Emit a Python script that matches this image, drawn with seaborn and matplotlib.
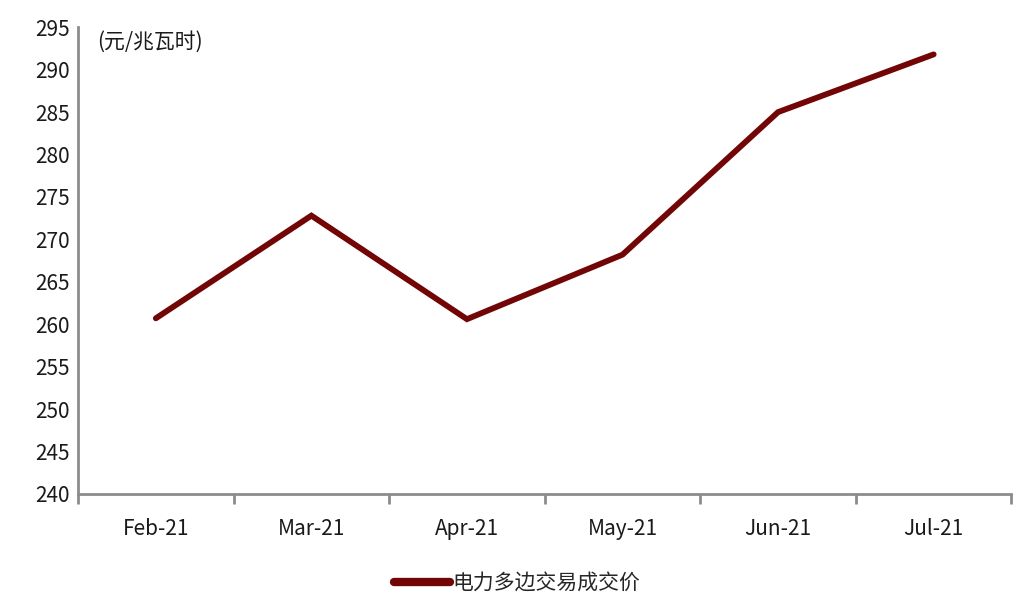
import matplotlib
matplotlib.use("Agg")
import matplotlib.pyplot as plt
import seaborn as sns
import pandas as pd
import numpy as np

months = ["Feb-21", "Mar-21", "Apr-21", "May-21", "Jun-21", "Jul-21"]
price = [260.7, 272.8, 260.6, 268.2, 285.0, 291.8]
series_name = "电力多边交易成交价"
unit_label = "(元/兆瓦时)"

sns.set_theme(style="white")
plt.rcParams['font.family'] = ['Noto Sans CJK SC', 'DejaVu Sans']

df = pd.DataFrame({"month": months, "price": price, "series": series_name})

fig = plt.figure(figsize=(10.28, 6.05), dpi=100)
ax = fig.add_axes([0.0759, 0.1835, 0.908, 0.7715])

sns.lineplot(data=df, x="month", y="price", hue="series", palette=["#720606"],
             linewidth=4.2, ax=ax, sort=False)
for ln in ax.lines:
    ln.set_solid_capstyle("round")
    ln.set_solid_joinstyle("miter")

ax.set_xlim(-0.5, len(months) - 0.5)
ax.set_ylim(240, 295)
ax.set_yticks(np.arange(240, 296, 5))
ax.set_xlabel("")
ax.set_ylabel("")

for s in ["top", "right"]:
    ax.spines[s].set_visible(False)
for s in ["left", "bottom"]:
    ax.spines[s].set_color("#8c8c8c")
    ax.spines[s].set_linewidth(2)

ax.tick_params(axis="y", which="both", length=0, labelsize=15, colors="#1a1a1a", pad=6)
ax.tick_params(axis="x", which="major", length=0, labelsize=15, colors="#1a1a1a", pad=17)
ax.set_xticks(np.arange(-0.5, len(months), 1), minor=True)
ax.tick_params(axis="x", which="minor", bottom=True, length=7, width=2,
               color="#8c8c8c", direction="out")

ax.text(0.02, 0.992, unit_label, transform=ax.transAxes, fontsize=15,
        color="#1a1a1a", va="top", ha="left")

leg = ax.legend(loc="upper center", bbox_to_anchor=(0.47, -0.127), frameon=False,
                fontsize=15, handlelength=2.7, handletextpad=0.1)
for h in leg.get_lines():
    h.set_linewidth(6)

fig.savefig("out.png", dpi=100)
